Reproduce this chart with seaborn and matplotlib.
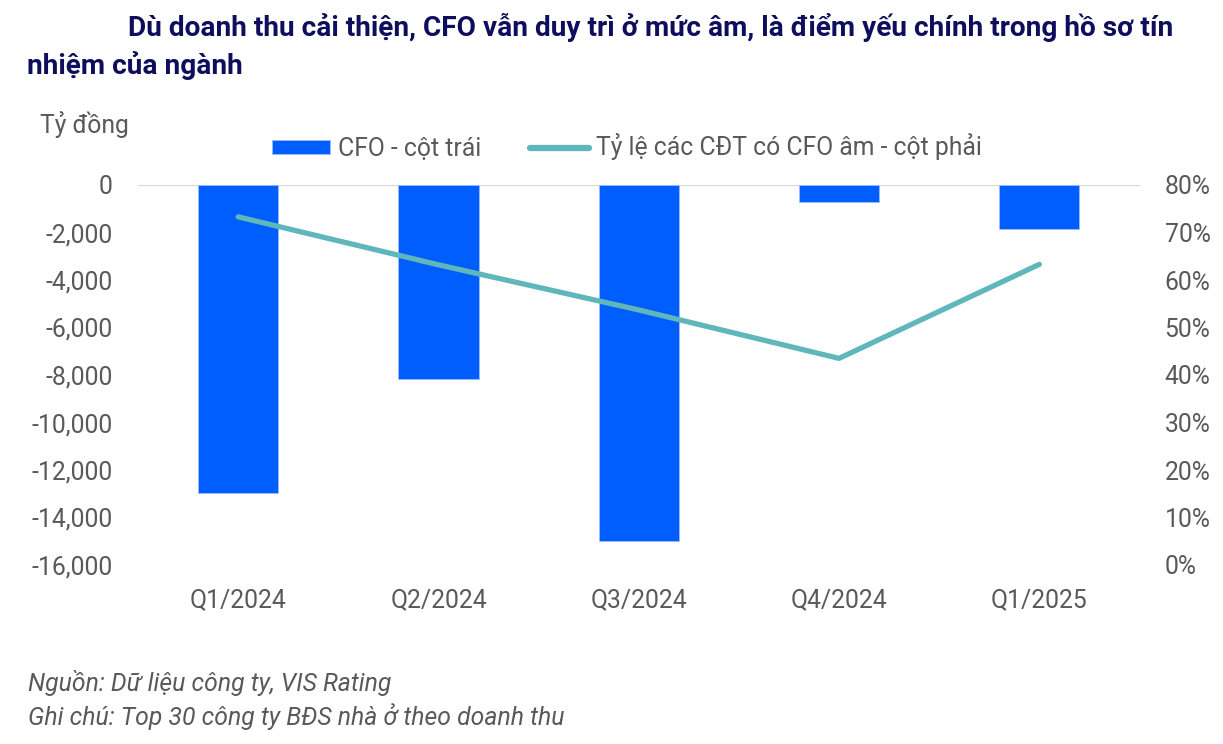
import matplotlib
matplotlib.use("Agg")
import matplotlib.pyplot as plt
import matplotlib.ticker as mticker
import seaborn as sns
import pandas as pd

categories = ["Q1/2024", "Q2/2024", "Q3/2024", "Q4/2024", "Q1/2025"]
cfo_values = [-12980, -8170, -14980, -730, -1870]
negative_share = [0.733, 0.632, 0.537, 0.435, 0.633]
left_ticks = [0, -2000, -4000, -6000, -8000, -10000, -12000, -14000, -16000]
right_ticks = [0, 0.1, 0.2, 0.3, 0.4, 0.5, 0.6, 0.7, 0.8]

title_line1 = "Dù doanh thu cải thiện, CFO vẫn duy trì ở mức âm, là điểm yếu chính trong hồ sơ tín"
title_line2 = "nhiệm của ngành"
unit_label = "Tỷ đồng"
bar_label = "CFO - cột trái"
line_label = "Tỷ lệ các CĐT có CFO âm - cột phải"
note1 = "Nguồn: Dữ liệu công ty, VIS Rating"
note2 = "Ghi chú: Top 30 công ty BĐS nhà ở theo doanh thu"

sns.set_theme(style="white")
plt.rcParams["font.family"] = ["Roboto", "DejaVu Sans"]

BAR_COLOR = "#005EFF"
LINE_COLOR = "#5FB6BB"
TEXT_GRAY = "#595959"
TITLE_COLOR = "#0E0E5C"
FS = 17.8

df = pd.DataFrame({"quarter": categories, "cfo": cfo_values, "share": negative_share})

fig = plt.figure(figsize=(12.23, 7.44), dpi=100)
ax = fig.add_axes([138 / 1223, 1 - 565 / 744, (1139.5 - 138) / 1223, (565 - 185) / 744])

sns.barplot(data=df, x="quarter", y="cfo", ax=ax, color=BAR_COLOR, width=0.4,
            saturation=1, edgecolor="#9dbcff", linewidth=0.6, label=bar_label)
ax.set_ylim(-16000, 0)
ax.set_xlim(-0.5, 4.5)
ax.set_yticks(left_ticks)
ax.yaxis.set_major_formatter(mticker.FuncFormatter(lambda v, p: f"{int(v):,}"))
ax.set_xlabel("")
ax.set_ylabel("")
for s in ax.spines.values():
    s.set_visible(False)
ax.axhline(0, color="#d9d9d9", lw=1.6, zorder=0.5)
ax.tick_params(axis="y", length=0, pad=18, labelsize=FS, labelcolor=TEXT_GRAY)
ax.tick_params(axis="x", length=0, pad=17, labelsize=FS, labelcolor=TEXT_GRAY)
ax.grid(False)

ax2 = ax.twinx()
sns.lineplot(data=df, x="quarter", y="share", ax=ax2, color=LINE_COLOR, lw=3.8,
             solid_capstyle="round", label=line_label)
ax2.set_ylim(0, 0.8)
ax2.set_xlim(-0.5, 4.5)
ax2.set_yticks(right_ticks)
ax2.yaxis.set_major_formatter(mticker.FuncFormatter(lambda v, p: f"{v*100:.0f}%"))
ax2.set_ylabel("")
ax2.grid(False)
for s in ax2.spines.values():
    s.set_visible(False)
ax2.tick_params(axis="y", length=0, pad=18, labelsize=FS, labelcolor=TEXT_GRAY)

h1, l1 = ax.get_legend_handles_labels()
h2, l2 = ax2.get_legend_handles_labels()
if ax2.get_legend():
    ax2.get_legend().remove()
if ax.get_legend():
    ax.get_legend().remove()
leg = fig.legend(h1 + h2, l1 + l2, loc="center", bbox_to_anchor=(627 / 1223, 1 - 147 / 744),
                 ncol=2, frameon=False, fontsize=FS, labelcolor=TEXT_GRAY,
                 handlelength=2.35, handleheight=0.5, handletextpad=0.3, columnspacing=2.0)
for lh in leg.get_lines():
    lh.set_linewidth(4.5)

fig.text(128 / 1223, 1 - 27 / 744, title_line1, fontsize=20.2, fontweight="bold",
         color=TITLE_COLOR, va="center", ha="left")
fig.text(27 / 1223, 1 - 66 / 744, title_line2, fontsize=20.2, fontweight="bold",
         color=TITLE_COLOR, va="center", ha="left")
fig.text(40 / 1223, 1 - 125 / 744, unit_label, fontsize=FS, color=TEXT_GRAY,
         va="center", ha="left")
fig.text(28 / 1223, 1 - 683 / 744, note1, fontsize=FS, style="italic", color=TEXT_GRAY,
         va="center", ha="left")
fig.text(28 / 1223, 1 - 717 / 744, note2, fontsize=FS, style="italic", color=TEXT_GRAY,
         va="center", ha="left")

fig.savefig("out.png", dpi=100)
